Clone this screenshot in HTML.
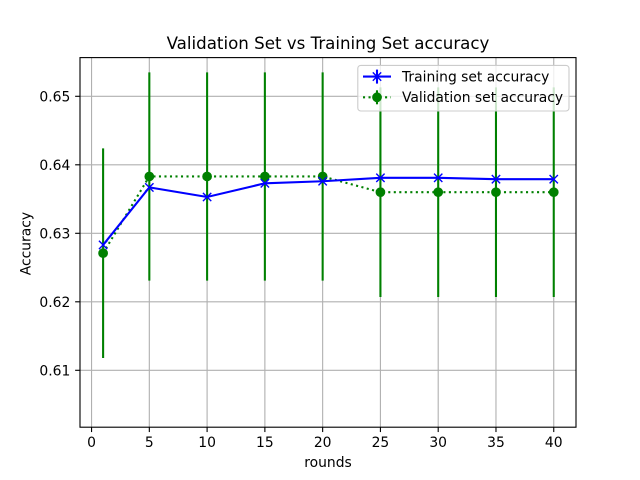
<!DOCTYPE html>
<html>
<head>
<meta charset="utf-8">
<style>
html,body{margin:0;padding:0;background:#fff;}
svg{display:block;}
text{font-family:"DejaVu Sans",sans-serif;fill:#000;}
</style>
</head>
<body>
<svg id="chart" width="640" height="480" viewBox="0 0 640 480" xmlns="http://www.w3.org/2000/svg">
<rect x="0" y="0" width="640" height="480" fill="#fff"/>
<g id="grid"></g>
<g id="series"></g>
<rect x="80" y="57.6" width="496" height="369.6" fill="none" stroke="#000" stroke-width="1.11"/>
<g id="ticks"></g>
<text x="328" y="49" font-size="16.67" text-anchor="middle">Validation Set vs Training Set accuracy</text>
<text x="328" y="467" font-size="13.89" text-anchor="middle">rounds</text>
<text transform="translate(30.5,243.6) rotate(-90)" font-size="13.89" text-anchor="middle">Accuracy</text>
<g>
<rect x="357.8" y="65.4" width="211.2" height="45.6" rx="3" ry="3" fill="#fff" fill-opacity="0.8" stroke="#ccc" stroke-width="1.11"/>
<g>
<line x1="363" y1="76.6" x2="391" y2="76.6" stroke="#00f" stroke-width="2.08"/>
<line x1="377" y1="69.6" x2="377" y2="83.6" stroke="#00f" stroke-width="2.08"/>
<path d="M372.8 72.4L381.2 80.8M372.8 80.8L381.2 72.4" stroke="#00f" stroke-width="1.39" fill="none"/>
<text x="402" y="81.7" font-size="13.89">Training set accuracy</text>
</g>
<g>
<line x1="363" y1="97.3" x2="391" y2="97.3" stroke="#008000" stroke-width="2.08" stroke-dasharray="2.08 3.43"/>
<line x1="377" y1="90.3" x2="377" y2="104.3" stroke="#008000" stroke-width="2.08"/>
<circle cx="377" cy="97.3" r="4.17" fill="#008000" stroke="#008000" stroke-width="1.39"/>
<text x="402" y="102" font-size="13.89">Validation set accuracy</text>
</g>
</g>
</svg>
<script>
const rounds = [1, 5, 10, 15, 20, 25, 30, 35, 40];
const trainingAccuracy = [0.6283, 0.6367, 0.6353, 0.6373, 0.6376, 0.6381, 0.6381, 0.6379, 0.6379];
const validationAccuracy = [0.6271, 0.6383, 0.6383, 0.6383, 0.6383, 0.6360, 0.6360, 0.6360, 0.6360];
const validationError = [0.0153, 0.0152, 0.0152, 0.0152, 0.0152, 0.0153, 0.0153, 0.0153, 0.0153];
const xTickValues = [0, 5, 10, 15, 20, 25, 30, 35, 40];
const yTickValues = [0.61, 0.62, 0.63, 0.64, 0.65];

const NS = 'http://www.w3.org/2000/svg';
const X_ORIGIN = 91.55, X_SCALE = 11.555;
const Y_BASE = 370.3, Y_SCALE = 6850;
const xAxis = v => X_ORIGIN + v * X_SCALE;
const yAxis = v => Y_BASE - (v - 0.61) * Y_SCALE;

function make(tag, attrs, parent) {
  const el = document.createElementNS(NS, tag);
  for (const k in attrs) el.setAttribute(k, attrs[k]);
  parent.appendChild(el);
  return el;
}

const grid = document.getElementById('grid');
const ticks = document.getElementById('ticks');
const series = document.getElementById('series');

xTickValues.forEach(v => {
  const x = xAxis(v);
  const g = make('line', {x1: x, x2: x, y1: 57.6, y2: 427.2, stroke: '#b0b0b0', 'stroke-width': 1.11}, grid);
  
  
  const t = make('line', {x1: x, x2: x, y1: 427.2, y2: 432.06, stroke: '#000', 'stroke-width': 1.11}, ticks);
  
  
  const l = make('text', {x: x, y: 447.2, 'font-size': 13.89, 'text-anchor': 'middle'}, ticks);
  
  
  l.textContent = String(v);
});

yTickValues.forEach(v => {
  const y = yAxis(v);
  const g = make('line', {x1: 80, x2: 576, y1: y, y2: y, stroke: '#b0b0b0', 'stroke-width': 1.11}, grid);
  
  
  const t = make('line', {x1: 75.14, x2: 80, y1: y, y2: y, stroke: '#000', 'stroke-width': 1.11}, ticks);
  
  
  const l = make('text', {x: 70.3, y: y + 5.2, 'font-size': 13.89, 'text-anchor': 'end'}, ticks);
  
  
  l.textContent = v.toFixed(2);
});

const polyPoints = values => rounds.map((r, i) => xAxis(r) + ',' + yAxis(values[i])).join(' ');

rounds.forEach((r, i) => {
  const x = xAxis(r);
  const bar = make('line', {x1: x, x2: x, y1: yAxis(validationAccuracy[i] + validationError[i]), y2: yAxis(validationAccuracy[i] - validationError[i]), stroke: '#008000', 'stroke-width': 2.08}, series);
  
  
});

const validationLine = make('polyline', {points: polyPoints(validationAccuracy), fill: 'none', stroke: '#008000', 'stroke-width': 2.08, 'stroke-dasharray': '2.08 3.43'}, series);



rounds.forEach((r, i) => {
  const c = make('circle', {cx: xAxis(r), cy: yAxis(validationAccuracy[i]), r: 4.17, fill: '#008000', stroke: '#008000', 'stroke-width': 1.39}, series);
  
  
});

const trainingLine = make('polyline', {points: polyPoints(trainingAccuracy), fill: 'none', stroke: '#00f', 'stroke-width': 2.08}, series);



rounds.forEach((r, i) => {
  const x = xAxis(r), y = yAxis(trainingAccuracy[i]), s = 4.17;
  const m = make('path', {d: `M${x - s} ${y - s}L${x + s} ${y + s}M${x - s} ${y + s}L${x + s} ${y - s}`, fill: 'none', stroke: '#00f', 'stroke-width': 1.39}, series);
  
  
});
</script>
</body>
</html>
